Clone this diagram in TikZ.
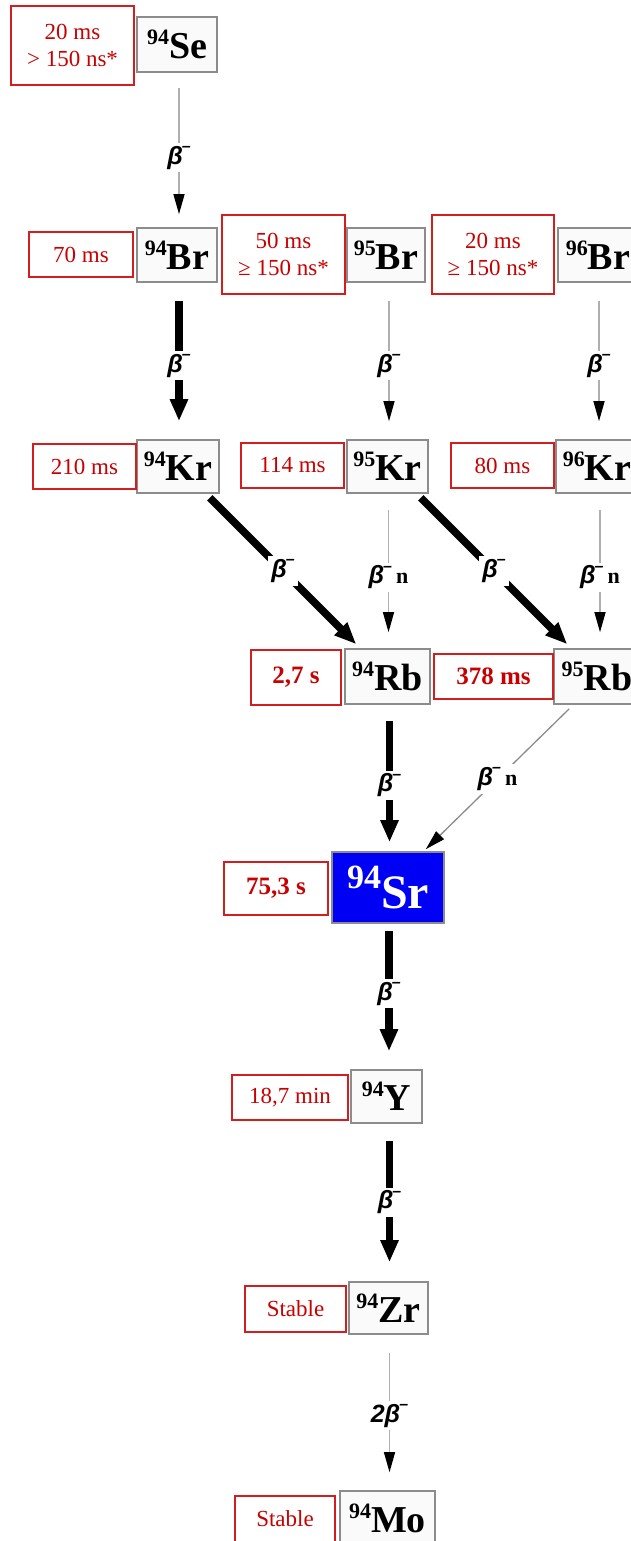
\documentclass[tikz,border=0pt]{standalone}
\usepackage{fontspec}
\setmainfont{Liberation Serif}
\newfontfamily\lblfont{Liberation Sans}
\usetikzlibrary{arrows.meta,calc}
\definecolor{hlred}{RGB}{200,0,0}
\definecolor{boxred}{RGB}{210,30,30}
\definecolor{elgray}{RGB}{140,140,140}
\definecolor{elfill}{RGB}{250,250,250}
\definecolor{thinline}{RGB}{175,175,175}
\definecolor{srblue}{RGB}{0,0,245}
\newcommand{\iso}[2]{{\fontsize{22}{22}\selectfont\raisebox{14pt}{#1}}#2}
\newcommand{\bigiso}[2]{{\fontsize{34}{34}\selectfont\raisebox{20pt}{#1}}#2}
\newcommand{\bminus}{β\kern-1pt\raisebox{0.5em}{\fontsize{16}{16}\selectfont –}}
\newcommand{\bminusn}{\bminus\,{\rmfamily\bfseries\upshape\fontsize{22}{22}\selectfont n}}
\begin{document}
\begin{tikzpicture}[x=1pt,y=-1pt,
 elem/.style={draw=elgray, line width=1.6pt, fill=elfill, inner sep=0pt, font=\fontsize{38}{38}\selectfont\bfseries},
 hl/.style={draw=boxred, line width=1.2pt, fill=white, inner sep=0pt, align=center, text=hlred, font=\fontsize{23}{27}\selectfont},
 hlb/.style={draw=boxred, line width=1.2pt, fill=white, inner sep=0pt, align=center, text=hlred, font=\fontsize{25}{28}\selectfont\bfseries},
 thickarr/.style={draw=black, line width=7.5pt, -{Triangle[width=17pt,length=22pt]}},
 thinarr/.style={draw=thinline, line width=1.3pt, -{Triangle[width=11pt,length=20pt,color=black]}},
 lbl/.style={fill=white, inner sep=3pt, text=black, font=\lblfont\bfseries\itshape\fontsize{25}{25}\selectfont}
]
\useasboundingbox (0,0) rectangle (630,1541);
\fill[white] (0,0) rectangle (630,1541);

% row Se
\node[elem, minimum width=80pt, minimum height=55pt] (se) at (177,44.5) {\iso{94}{Se}};
\node[hl, minimum width=123pt, minimum height=79pt] (tse) at (72.5,45.5) {20 ms\\> 150 ns*};

% row Br
\node[elem, minimum width=80pt, minimum height=54pt] (br94) at (177,255) {\iso{94}{Br}};
\node[hl, minimum width=104pt, minimum height=45pt] (tbr94) at (81,254.5) {70 ms};
\node[elem, minimum width=78pt, minimum height=54pt] (br95) at (386,255) {\iso{95}{Br}};
\node[hl, minimum width=123pt, minimum height=79pt] (tbr95) at (283.5,254.5) {50 ms\\≥ 150 ns*};
\node[elem, minimum width=80pt, minimum height=54pt] (br96) at (598,255) {\iso{96}{Br}};
\node[hl, minimum width=122pt, minimum height=79pt] (tbr96) at (493,254.5) {20 ms\\≥ 150 ns*};

% row Kr
\node[elem, minimum width=82pt, minimum height=53pt] (kr94) at (178,466.5) {\iso{94}{Kr}};
\node[hl, minimum width=103pt, minimum height=45pt] (tkr94) at (84.5,466.5) {210 ms};
\node[elem, minimum width=81pt, minimum height=53pt] (kr95) at (387.5,466.5) {\iso{95}{Kr}};
\node[hl, minimum width=103pt, minimum height=45pt] (tkr95) at (292.5,465.5) {114 ms};
\node[elem, minimum width=82pt, minimum height=53pt] (kr96) at (597,466.5) {\iso{96}{Kr}};
\node[hl, minimum width=103pt, minimum height=45pt] (tkr96) at (502.5,465.5) {80 ms};

% row Rb
\node[elem, minimum width=85pt, minimum height=55pt] (rb94) at (387.5,676.5) {\iso{94}{Rb}};
\node[hlb, minimum width=90pt, minimum height=55pt] (trb94) at (296,677.5) {2,7 s};
\node[elem, minimum width=86pt, minimum height=55pt] (rb95) at (597,676.5) {\iso{95}{Rb}};
\node[hlb, minimum width=119pt, minimum height=45pt] (trb95) at (493.5,676.5) {378 ms};

% Sr
\node[draw=elgray, line width=1.6pt, fill=srblue, text=white, inner sep=0pt, minimum width=112pt, minimum height=71pt, font=\fontsize{48}{48}\selectfont\bfseries] (sr) at (388,887.5) {\bigiso{94}{Sr}};
\node[hlb, minimum width=104pt, minimum height=53pt] (tsr) at (276,888.5) {75,3 s};

% Y
\node[elem, minimum width=71pt, minimum height=53pt] (y94) at (386.5,1096.5) {\iso{94}{Y}};
\node[hl, minimum width=116pt, minimum height=45pt] (ty) at (290,1097.5) {18,7 min};

% Zr
\node[elem, minimum width=79pt, minimum height=52pt] (zr) at (388.5,1308) {\iso{94}{Zr}};
\node[hl, minimum width=101pt, minimum height=46pt] (tzr) at (295.5,1309) {Stable};

% Mo
\node[elem, minimum width=95pt, minimum height=55pt] (mo) at (387.5,1518.5) {\iso{94}{Mo}};
\node[hl, minimum width=100pt, minimum height=46pt] (tmo) at (285,1519) {Stable};

% arrows
\draw[thinarr, shorten <=15pt, shorten >=13pt] ($(se.south)+(2,0)$) -- ($(se.south |- br94.north)+(2,0)$) node[lbl, pos=0.55] {\bminus};
\draw[thickarr, shorten <=18pt, shorten >=18pt] ($(br94.south)+(2,0)$) -- ($(br94.south |- kr94.north)+(2,0)$) node[lbl, pos=0.53] {\bminus};
\draw[thinarr, shorten <=18pt, shorten >=18pt] ($(br95.south)+(3,0)$) -- ($(br95.south |- kr95.north)+(3,0)$) node[lbl, pos=0.53] {\bminus};
\draw[thinarr, shorten <=18pt, shorten >=18pt] ($(br96.south)+(1,0)$) -- ($(br96.south |- kr96.north)+(1,0)$) node[lbl, pos=0.53] {\bminus};

\draw[thickarr] ($(kr94.south east)+(-10,4)$) -- ($(rb94.north west)+(12,-4)$) node[lbl, pos=0.5] {\bminus};
\draw[thickarr] ($(kr95.south east)+(-8,4)$) -- ($(rb95.north west)+(14,-4)$) node[lbl, pos=0.5] {\bminus};
\draw[thinarr, shorten <=16pt, shorten >=16pt] ($(kr95.south)+(1,0)$) -- ($(kr95.south |- rb94.north)+(1,0)$) node[lbl, pos=0.54] {\bminusn};
\draw[thinarr, shorten <=16pt, shorten >=16pt] ($(kr96.south)+(3,0)$) -- ($(kr96.south |- rb95.north)+(3,0)$) node[lbl, pos=0.54] {\bminusn};

\draw[thickarr, shorten <=16pt, shorten >=9pt] ($(rb94.south)+(2,0)$) -- ($(rb94.south |- sr.north)+(2,0)$) node[lbl, pos=0.55] {\bminus};
\draw[draw=elgray, line width=1.3pt, -{Triangle[width=11pt,length=20pt,color=black]}] ($(rb95.south west)+(16,4)$) -- ($(sr.north east)+(-19,-2)$) node[lbl, pos=0.5] {\bminusn};

\draw[thickarr, shorten <=7pt, shorten >=18pt] ($(sr.south)+(1,0)$) -- ($(sr.south |- y94.north)+(1,0)$) node[lbl, pos=0.48] {\bminus};
\draw[thickarr, shorten <=17pt, shorten >=19pt] ($(y94.south)+(3,0)$) -- ($(y94.south |- zr.north)+(3,0)$) node[lbl, pos=0.5] {\bminus};
\draw[thinarr, shorten <=18pt, shorten >=18pt] ($(zr.south)+(1,0)$) -- ($(zr.south |- mo.north)+(1,0)$) node[lbl, pos=0.52] {2\bminus};
\end{tikzpicture}
\end{document}
